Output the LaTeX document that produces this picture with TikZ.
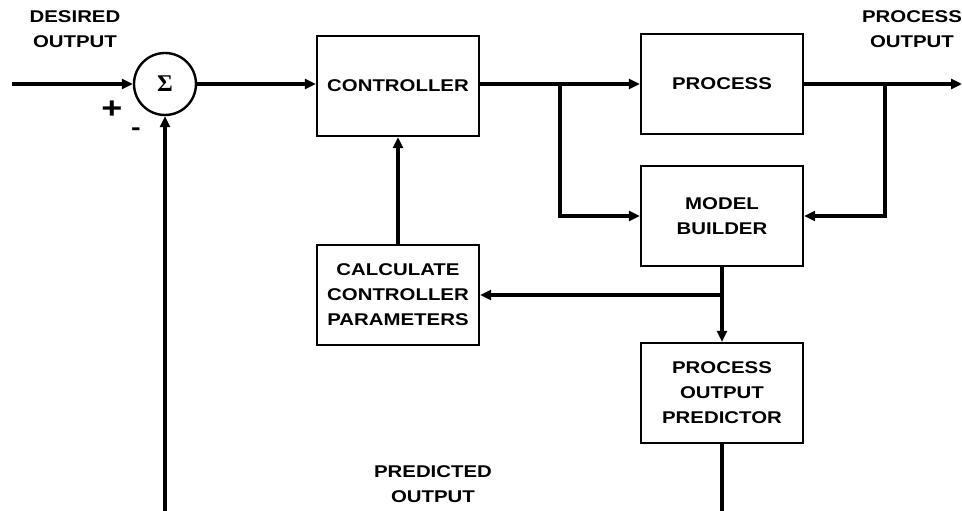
\documentclass[tikz,border=0pt]{standalone}
\usepackage{fontspec}
\setmainfont{Liberation Sans}[FakeStretch=1.2]
\newfontfamily\sigmafont{Liberation Serif}
\usetikzlibrary{arrows.meta}

\begin{document}
\begin{tikzpicture}[
  x=1pt,y=-1pt,
  block/.style={draw,line width=2.4pt,minimum width=162pt,minimum height=100pt,align=center,inner sep=2pt},
  sum/.style={circle,draw,line width=2.4pt,minimum size=62pt,inner sep=0pt},
  flow/.style={-{Triangle[length=11pt,width=10pt]},line width=3.6pt},
  wire/.style={line width=3.6pt},
  lbl/.style={align=center},
  every node/.style={font=\bfseries\fontsize{17}{25}\selectfont}
]
  \useasboundingbox (0,0) rectangle (962,511);
  % blocks
  \node[sum] (sum) at (165,84) {\sigmafont\fontsize{24}{24}\selectfont Σ};
  \node[block] (ctrl) at (398,86) {CONTROLLER};
  \node[block] (proc) at (722,84) {PROCESS};
  \node[block] (model) at (722,216) {MODEL\\BUILDER};
  \node[block] (calc) at (398,295) {CALCULATE\\CONTROLLER\\PARAMETERS};
  \node[block] (pred) at (722,393) {PROCESS\\OUTPUT\\PREDICTOR};
  % free ends and branch points
  \coordinate (in) at (12,84);
  \coordinate (out) at (962,84);
  \coordinate (split1) at (560,84);
  \coordinate (split2) at (885,84);
  \coordinate (tap) at (model.south |- calc.east);
  \coordinate (predout) at (722,511);
  \coordinate (fb) at (sum.south |- predout);
  % connectors
  \draw[flow] (in) -- (sum.west);
  \draw[flow] (sum.east) -- (sum -| ctrl.west);
  \draw[flow] (sum -| ctrl.east) -- (proc.west);
  \draw[flow] (split1) |- (model.west);
  \draw[flow] (proc.east) -- (out);
  \draw[flow] (split2) |- (model.east);
  \draw[flow] (model.south) -- (pred.north);
  \draw[flow] (tap) -- (calc.east);
  \draw[flow] (calc.north) -- (ctrl.south);
  \draw[wire] (pred.south) -- (predout);
  \draw[flow] (fb) -- (sum.south);
  % labels
  \node[lbl] (desired) at (75,29) {DESIRED\\OUTPUT};
  \node[lbl] (procout) at (912,29) {PROCESS\\OUTPUT};
  \node[lbl] (predicted) at (433,484) {PREDICTED\\OUTPUT};
  \node[font=\bfseries\fontsize{30}{30}\selectfont] (plus) at (112,110) {+};
  \node[font=\bfseries\fontsize{24}{24}\selectfont] (minus) at (136,132) {-};
\end{tikzpicture}
\end{document}
